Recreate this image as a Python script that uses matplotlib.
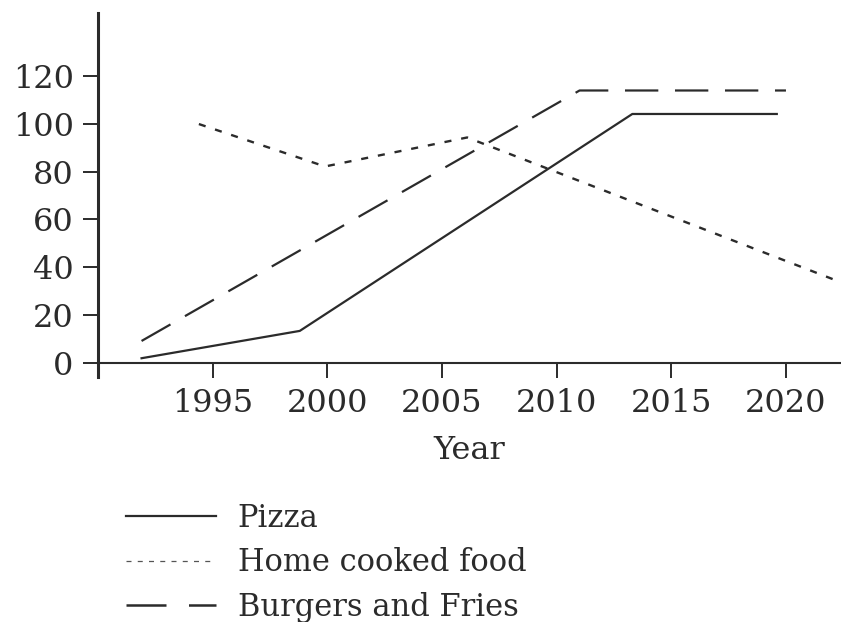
import matplotlib
matplotlib.use("Agg")
import matplotlib.pyplot as plt
from matplotlib.lines import Line2D

plt.rcParams['font.family'] = ['DejaVu Serif']

# values
pizza_years = [1991.9, 1998.8, 2013.3, 2019.6]
pizza_vals = [2.1, 13.5, 104.0, 104.0]

home_years = [1994.4, 1999.9, 2006.1, 2022.5]
home_vals = [99.8, 82.1, 94.2, 33.4]

burger_years = [1991.9, 2011.0, 2020.0]
burger_vals = [9.3, 113.8, 113.8]

year_ticks = [1995, 2000, 2005, 2010, 2015, 2020]
value_ticks = [0, 20, 40, 60, 80, 100, 120]

ink = '#2b2b2b'
fs = 23

fig = plt.figure(figsize=(8.41, 6.22), dpi=100)
ax = fig.add_axes([0.1165, 0.3944, 1.0 - 0.1165, 0.9786 - 0.3944])

ax.plot(pizza_years, pizza_vals, color=ink, lw=1.6)
ax.plot(home_years, home_vals, color=ink, lw=1.7, dashes=(3.0, 4.2))
ax.plot(burger_years, burger_vals, color=ink, lw=1.6, dashes=(15, 7.5))

ax.set_xlim(1990, 2022.4)
ax.set_ylim(-5.6, 146)
ax.set_xticks(year_ticks)
ax.set_yticks(value_ticks)

ax.spines['top'].set_visible(False)
ax.spines['right'].set_visible(False)
ax.spines['bottom'].set_position(('data', 0))
ax.spines['left'].set_linewidth(2.2)
ax.spines['bottom'].set_linewidth(1.5)
ax.spines['left'].set_color(ink)
ax.spines['bottom'].set_color(ink)

ax.tick_params(axis='both', direction='out', length=10.5, width=1.4,
               color=ink, labelsize=fs, labelcolor=ink)
ax.tick_params(axis='x', pad=7)
ax.tick_params(axis='y', pad=7)

ax.set_xlabel('Year', fontsize=fs, color=ink, labelpad=12)

# legend handles (the dotted one is drawn finer in the reference)
handles = [
    Line2D([], [], color=ink, lw=1.6),
    Line2D([], [], color='#555555', lw=0.9, dashes=(4, 5)),
    Line2D([], [], color=ink, lw=1.8, dashes=(16, 9)),
]
labels = ['Pizza', 'Home cooked food', 'Burgers and Fries']
fig.legend(handles, labels, loc='upper left', bbox_to_anchor=(0.1498, 0.192),
           bbox_transform=fig.transFigure, frameon=False, fontsize=22,
           handlelength=2.95, handletextpad=0.7, labelspacing=0.45,
           borderaxespad=0, borderpad=0, labelcolor=ink)

fig.savefig('out.png', dpi=100)
